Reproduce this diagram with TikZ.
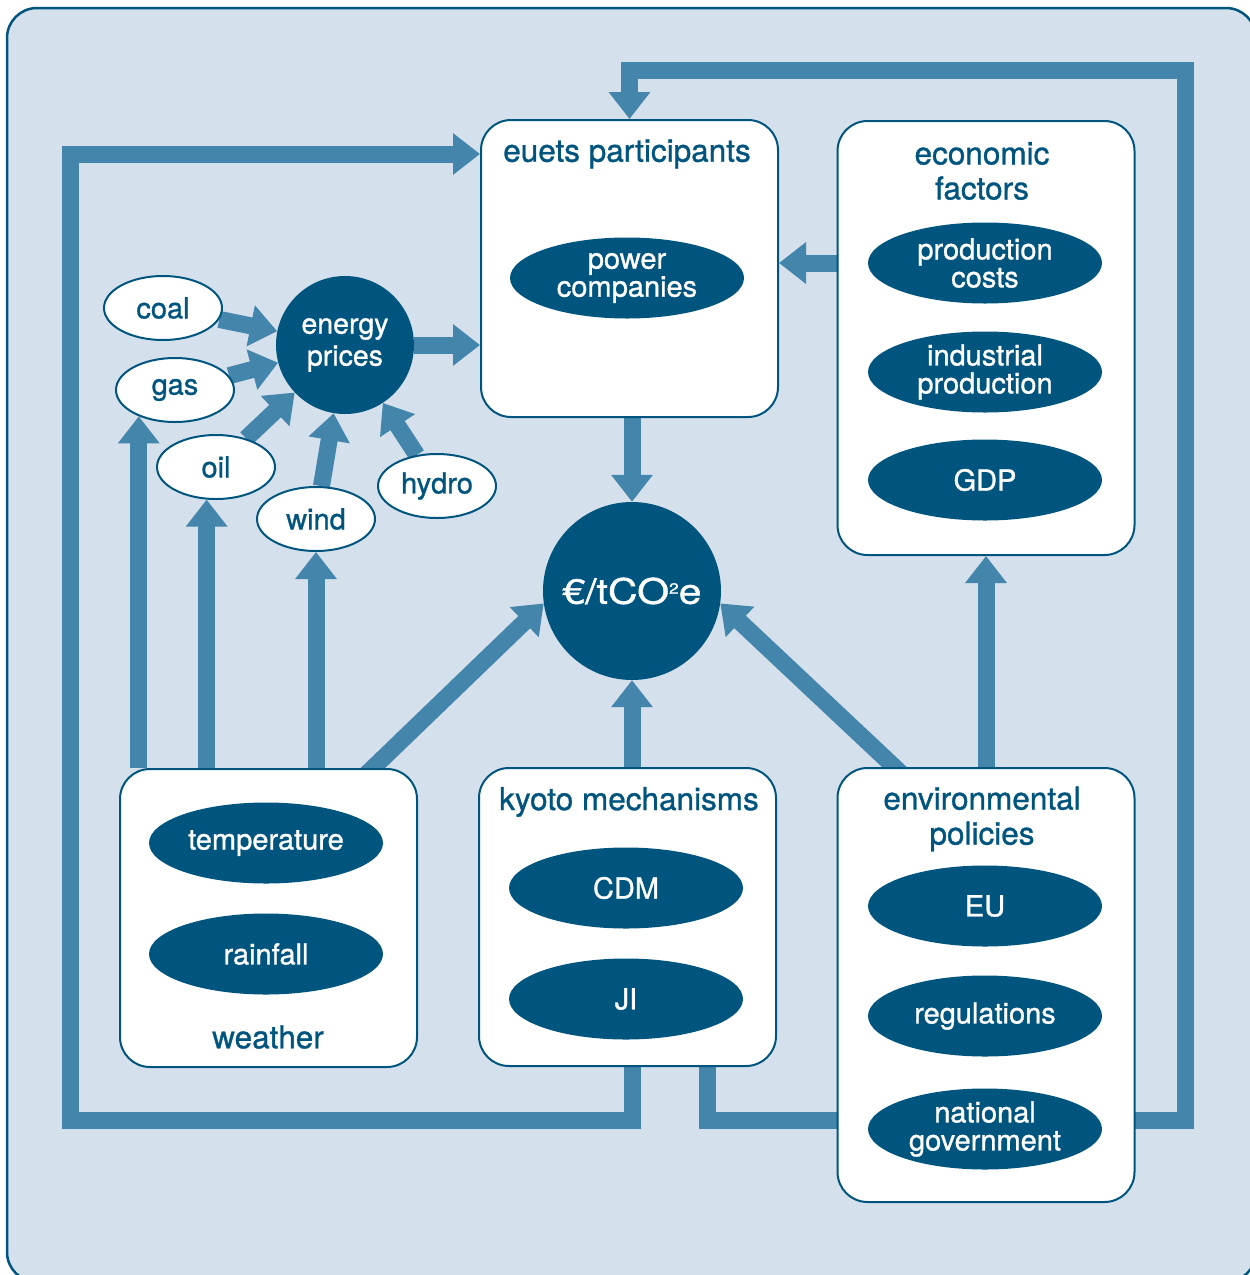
\documentclass[tikz,border=0pt]{standalone}
\usepackage{fontspec}
\setmainfont{TeX Gyre Heros}[FakeBold=1]
\usetikzlibrary{arrows.meta,shapes.geometric,positioning}
\definecolor{paleblue}{HTML}{D4E0EC}
\definecolor{navy}{HTML}{00557F}
\definecolor{flowblue}{HTML}{4385AB}
\pgfdeclarelayer{back}
\pgfdeclarelayer{flows}
\pgfsetlayers{back,flows,main}

\begin{document}
\begin{tikzpicture}[x=1pt,y=-1pt,
  box/.style={draw=navy,line width=2pt,fill=white,rounded corners=30pt,minimum width=297pt,inner sep=0pt},
  title/.style={text=navy,font=\fontsize{31.5}{35}\selectfont,align=center},
  factor/.style={ellipse,fill=navy,text=white,minimum width=234pt,minimum height=81pt,inner sep=0pt,font=\fontsize{29}{28}\selectfont,align=center},
  fuel/.style={ellipse,draw=navy,line width=2pt,fill=white,text=navy,minimum width=118pt,minimum height=64pt,inner sep=0pt,font=\fontsize{29}{30}\selectfont},
  hub/.style={circle,fill=navy,text=white,inner sep=0pt,align=center},
  flow/.style={flowblue,line width=17pt,-{Triangle[width=40pt,length=27pt]}}]
  \useasboundingbox (0,0) rectangle (1250,1275);
  \begin{pgfonlayer}{back}
    \filldraw[fill=paleblue,draw=navy,line width=2.5pt,rounded corners=30pt] (7,8) rectangle (1256,1282);
  \end{pgfonlayer}

  % euets participants
  \node[box,minimum height=297pt] (euets) at (629.5,268.5) {};
  \node[title] (euetsT) at (627,154) {euets participants};
  \node[factor] (power) at (627,278) {power\\companies};

  % economic factors
  \node[box,minimum height=434pt] (econ) at (986,338) {};
  \node[title] (econT) at (982,171) {economic\\factors};
  \node[factor] (prod) at (985,263) {production\\costs};
  \node[factor] (indus) at (985,372) {industrial\\production};
  \node[factor] (gdp) at (985,480) {GDP};

  % kyoto mechanisms
  \node[box,minimum height=298pt] (kyoto) at (627.5,917) {};
  \node[title] (kyotoT) at (629,802) {kyoto mechanisms};
  \node[factor] (cdm) at (626,888) {CDM};
  \node[factor] (ji) at (626,999) {JI};

  % environmental policies
  \node[box,minimum height=434pt] (env) at (986,985) {};
  \node[title] (envT) at (982,819) {environmental\\policies};
  \node[factor] (eu) at (985,906) {EU};
  \node[factor] (regs) at (985,1016) {regulations};
  \node[factor] (natgov) at (985,1129) {national\\government};

  % weather
  \node[box,minimum height=298pt] (weather) at (268.5,918) {};
  \node[factor] (temp) at (266,843) {temperature};
  \node[factor] (rain) at (266,954) {rainfall};
  \node[title] (weatherT) at (268,1037) {weather};

  % hubs
  \node[hub,minimum size=138pt,font=\fontsize{28.5}{32}\selectfont] (energy) at (345,345) {energy\\prices};
  \node[hub,minimum size=178pt,font=\fontsize{35}{35}\selectfont] (eur) at (632,591)
    {\scalebox{1.17}[1]{€/tCO\raisebox{10pt}{\fontsize{15}{15}\selectfont 2}e}};

  % fuels
  \node[fuel] (coal) at (163,308) {coal};
  \node[fuel] (gas) at (175,390) {gas};
  \node[fuel] (oil) at (216,467) {oil};
  \node[fuel] (wind) at (316,519) {wind};
  \node[fuel] (hydro) at (437,486) {hydro};

  \begin{pgfonlayer}{flows}
    \draw[flow] (coal) -- (energy);
    \draw[flow] (gas) -- (energy);
    \draw[flow] (oil) -- (energy);
    \draw[flow] (wind) -- (energy);
    \draw[flow] (hydro) -- (energy);
    \draw[flow] (energy) -- (energy -| euets.west);
    \draw[flow] (prod -| econ.west) -- (prod -| euets.east);
    \draw[flow] (eur |- euets.south) -- (eur.north);
    \draw[flow] (gas.216 |- weather.north) -- (gas.216);
    \draw[flow] (oil.254 |- weather.north) -- (oil.254);
    \draw[flow] (wind.south |- weather.north) -- (wind.south);
    \draw[flow] ([xshift=94pt,yshift=-10pt]weather.north) -- (eur.188);
    \draw[flow] (eur |- kyoto.north) -- (eur.south);
    \draw[flow] ([xshift=-81pt,yshift=-10pt]env.north) -- (eur.-8);
    \draw[flow] (env.north) -- (econ.south);
    % feedback loops
    \coordinate (loopSW) at (70,1120);
    \coordinate (loopSE) at (1185,1120);
    \coordinate (loopNE) at (1185,70);
    \draw[flow] (eur |- kyoto.south) |- (loopSW) |- (euetsT -| euets.west);
    \draw[flow] ([xshift=80pt]kyoto.south) |- (loopSE) -- (loopNE) -| (euets.north);
  \end{pgfonlayer}
\end{tikzpicture}
\end{document}
